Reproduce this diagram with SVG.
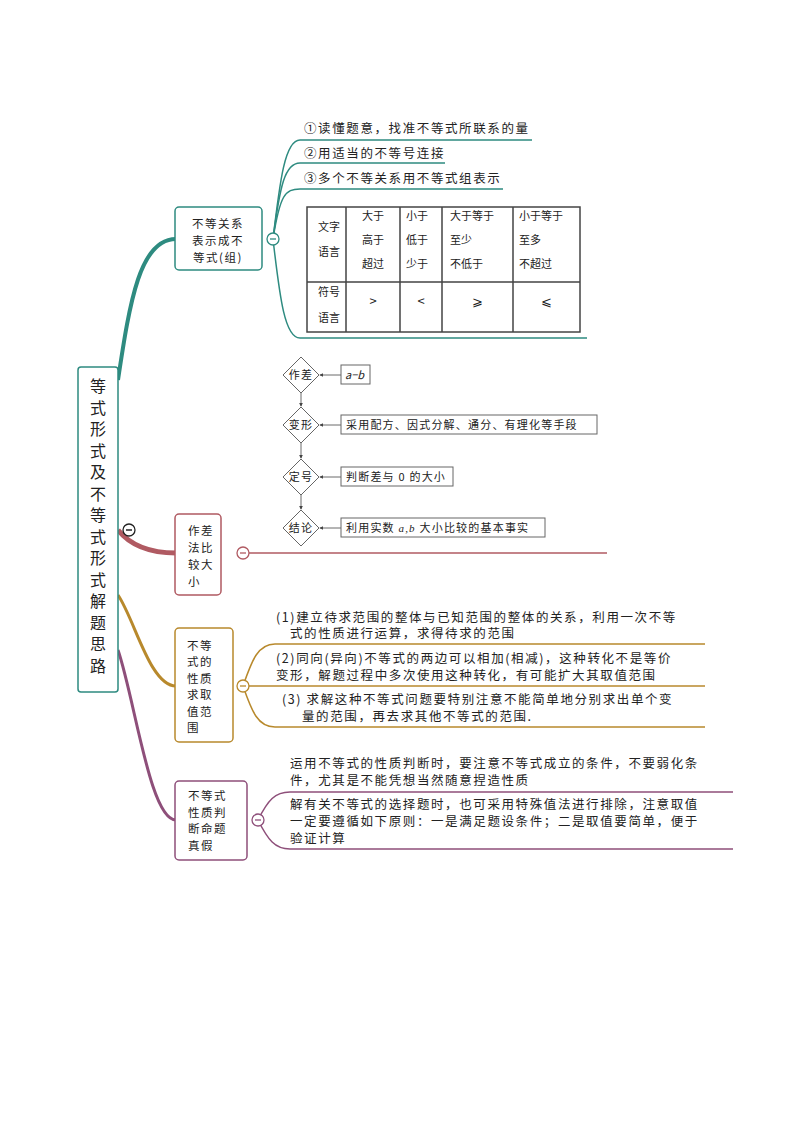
<svg xmlns="http://www.w3.org/2000/svg" width="794" height="1123" viewBox="0 0 794 1123">
<style>
text{font-family:"Noto Sans CJK SC","Liberation Serif",serif;fill:#222}
.s{font-size:12.5px;letter-spacing:1.6px}.t{font-size:11px;letter-spacing:1.2px}
.nb{font-size:11.5px;letter-spacing:1.5px}
.box{fill:#fff;stroke-width:1.5}
.fl{fill:#fff;stroke:#666;stroke-width:1}
.cir{fill:#fff;stroke-width:1.3}
</style>
<defs><marker id="ar" viewBox="0 0 6 6" refX="5" refY="3" markerWidth="5" markerHeight="5" orient="auto"><path d="M0,0L6,3L0,6z" fill="#444"/></marker></defs>
<rect width="794" height="1123" fill="#fff"/>
<g id="connectors" fill="none">
<path d="M118,380 C130,300 140,239 176,239" stroke="#2e8b80" stroke-width="4"/>
<path d="M118,530 C130,545 150,553 176,553" stroke="#b05a62" stroke-width="5"/>
<path d="M118,595 C135,620 150,686 176,686" stroke="#b8892c" stroke-width="3"/>
<path d="M118,650 C135,700 150,820 176,820" stroke="#8e4f7a" stroke-width="3"/>
<g stroke="#2e8b80" stroke-width="1.5">
<path d="M273,239 C280,180 285,140 300,140 L532,140"/>
<path d="M273,239 C280,185 285,163 300,163 L445,163"/>
<path d="M273,239 C280,195 285,189 300,189 L503,189"/>
<path d="M273,239 C280,300 285,338 300,338 L587,338"/>
</g>
<path d="M243,553 L607,553" stroke="#b05a62" stroke-width="1.3"/>
<g stroke="#b8892c" stroke-width="1.5">
<path d="M243,686 C252,660 258,644 275,644 L705,644"/>
<path d="M243,686 L705,686"/>
<path d="M243,686 C252,712 258,727 275,727 L705,727"/>
</g>
<g stroke="#8e4f7a" stroke-width="1.5">
<path d="M258,820 C268,800 275,792 290,792 L733,792"/>
<path d="M258,820 C268,840 275,849 290,849 L733,849"/>
</g>
<g stroke="#444" stroke-width="0.8" marker-end="url(#ar)">
<path d="M301,393 L301,406"/><path d="M301,443 L301,458"/><path d="M301,495 L301,509"/>
<path d="M341,375 L320,375"/><path d="M341,425 L320,425"/><path d="M341,477 L320,477"/><path d="M341,528 L320,528"/>
</g>
</g>
<g id="root"><rect x="78" y="367" width="40" height="325" rx="3" class="box" stroke="#2e8b80" stroke-width="3"/>
<g font-size="16" text-anchor="middle">
<text x="98" y="392">等</text><text x="98" y="414">式</text><text x="98" y="435">形</text><text x="98" y="457">式</text><text x="98" y="478">及</text><text x="98" y="500">不</text><text x="98" y="521">等</text><text x="98" y="543">式</text><text x="98" y="564">形</text><text x="98" y="586">式</text><text x="98" y="607">解</text><text x="98" y="629">题</text><text x="98" y="650">思</text><text x="98" y="672">路</text></g>
<circle cx="129" cy="530" r="6" class="cir" stroke="#222"/><path d="M126,530h6" stroke="#222" stroke-width="1.5"/>
</g>
<g id="n1"><rect x="175" y="207" width="87" height="63" rx="4" class="box" stroke="#2e8b80"/>
<g class="nb" text-anchor="middle"><text x="218" y="228">不等关系</text><text x="218" y="245">表示成不</text><text x="218" y="262">等式(组)</text></g>
<circle cx="273" cy="239" r="6" class="cir" stroke="#2e8b80"/><path d="M270,239h6" stroke="#2e8b80" stroke-width="1.3"/>
<g class="s"><text x="304" y="133">①读懂题意，找准不等式所联系的量</text><text x="304" y="158">②用适当的不等号连接</text><text x="304" y="183">③多个不等关系用不等式组表示</text></g>
</g>
<g id="table" fill="none" stroke="#444" stroke-width="1.5">
<rect x="307" y="207" width="273" height="125"/>
<path d="M346,207V332M400,207V332M442,207V332M513,207V332M307,282H580"/>
</g>
<g id="tabletext" font-size="11">
<text x="318" y="231">文字</text><text x="318" y="256">语言</text>
<text x="362" y="220">大于</text><text x="362" y="244">高于</text><text x="362" y="268">超过</text>
<text x="406" y="220">小于</text><text x="406" y="244">低于</text><text x="406" y="268">少于</text>
<text x="450" y="220">大于等于</text><text x="450" y="244">至少</text><text x="450" y="268">不低于</text>
<text x="519" y="220">小于等于</text><text x="519" y="244">至多</text><text x="519" y="268">不超过</text>
<text x="318" y="296">符号</text><text x="318" y="322">语言</text>
<g text-anchor="middle" font-size="13"><text x="373" y="306">&gt;</text><text x="421" y="306">&lt;</text><text x="477" y="306">⩾</text><text x="546" y="306">⩽</text></g>
</g>
<g id="n2"><rect x="175" y="514" width="46" height="81" rx="4" class="box" stroke="#b05a62"/>
<g class="nb"><text x="188" y="535">作差</text><text x="188" y="552">法比</text><text x="188" y="569">较大</text><text x="188" y="586">小</text></g>
<circle cx="243" cy="553" r="6" class="cir" stroke="#b05a62"/><path d="M240,553h6" stroke="#b05a62" stroke-width="1.3"/>
</g>
<g id="flow" class="t">
<path d="M301,357L319,375L301,393L283,375z" class="fl"/><text x="301" y="379" text-anchor="middle">作差</text>
<path d="M301,407L319,425L301,443L283,425z" class="fl"/><text x="301" y="429" text-anchor="middle">变形</text>
<path d="M301,459L319,477L301,495L283,477z" class="fl"/><text x="301" y="481" text-anchor="middle">定号</text>
<path d="M301,510L319,528L301,546L283,528z" class="fl"/><text x="301" y="532" text-anchor="middle">结论</text>
<rect x="341" y="365" width="29" height="19" class="fl"/><text x="345" y="379" font-style="italic" font-family="Liberation Serif,serif" letter-spacing="0">a−b</text>
<rect x="341" y="415" width="256" height="19" class="fl"/><text x="346" y="429">采用配方、因式分解、通分、有理化等手段</text>
<rect x="341" y="467" width="112" height="19" class="fl"/><text x="346" y="481">判断差与 0 的大小</text>
<rect x="341" y="518" width="204" height="19" class="fl"/><text x="346" y="532">利用实数 <tspan font-style="italic" font-family="Liberation Serif,serif">a,b</tspan> 大小比较的基本事实</text>
</g>
<g id="n3"><rect x="175" y="628" width="58" height="114" rx="4" class="box" stroke="#b8892c"/>
<g class="nb"><text x="187" y="650">不等</text><text x="187" y="666">式的</text><text x="187" y="683">性质</text><text x="187" y="699">求取</text><text x="187" y="716">值范</text><text x="187" y="732">围</text></g>
<circle cx="243" cy="686" r="6" class="cir" stroke="#b8892c"/><path d="M240,686h6" stroke="#b8892c" stroke-width="1.3"/>
<g class="s"><text x="276" y="622">(1)建立待求范围的整体与已知范围的整体的关系，利用一次不等</text><text x="290" y="638">式的性质进行运算，求得待求的范围</text>
<text x="276" y="663">(2)同向(异向)不等式的两边可以相加(相减)，这种转化不是等价</text><text x="276" y="680">变形，解题过程中多次使用这种转化，有可能扩大其取值范围</text>
<text x="282" y="704">(3) 求解这种不等式问题要特别注意不能简单地分别求出单个变</text><text x="302" y="721">量的范围，再去求其他不等式的范围.</text></g>
</g>
<g id="n4"><rect x="175" y="781" width="72" height="79" rx="4" class="box" stroke="#8e4f7a"/>
<g class="nb"><text x="188" y="800">不等式</text><text x="188" y="817">性质判</text><text x="188" y="833">断命题</text><text x="188" y="850">真假</text></g>
<circle cx="258" cy="820" r="6" class="cir" stroke="#8e4f7a"/><path d="M255,820h6" stroke="#8e4f7a" stroke-width="1.3"/>
<g class="s"><text x="290" y="768">运用不等式的性质判断时，要注意不等式成立的条件，不要弱化条</text><text x="290" y="785">件，尤其是不能凭想当然随意捏造性质</text>
<text x="290" y="809">解有关不等式的选择题时，也可采用特殊值法进行排除，注意取值</text><text x="290" y="826">一定要遵循如下原则：一是满足题设条件；二是取值要简单，便于</text><text x="290" y="843">验证计算</text></g>
</g>
</svg>
